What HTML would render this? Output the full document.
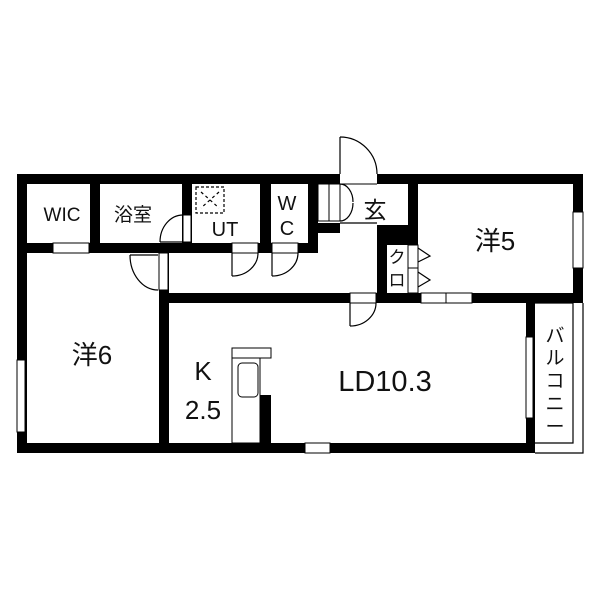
<!DOCTYPE html>
<html><head><meta charset="utf-8"><style>
html,body{margin:0;padding:0;background:#fff;}
svg{display:block;}
text{font-family:"Liberation Sans","Noto Sans CJK JP",sans-serif;fill:#111;}
</style></head><body>
<svg width="600" height="600" viewBox="0 0 600 600" xmlns="http://www.w3.org/2000/svg">
<g fill="#000">
<rect x="17" y="174" width="566" height="10"/>
<rect x="17" y="174" width="10" height="279"/>
<rect x="17" y="443" width="518" height="10"/>
<rect x="573" y="174" width="10" height="129"/>
<rect x="168" y="293" width="415" height="10"/>
<rect x="526" y="293" width="9" height="160"/>
<rect x="17" y="243" width="301" height="10"/>
<rect x="90" y="174" width="10" height="79"/>
<rect x="182" y="174" width="10" height="79"/>
<rect x="260" y="174" width="11" height="79"/>
<rect x="308" y="174" width="10" height="79"/>
<rect x="308" y="223" width="32" height="10"/>
<rect x="159" y="253" width="10" height="200"/>
<rect x="408" y="174" width="10" height="129"/>
<rect x="377" y="225" width="41" height="20"/>
<rect x="377" y="225" width="10" height="78"/>
<rect x="260" y="395" width="11" height="48"/>
</g>
<g fill="#fff" stroke="#000" stroke-width="1">
<rect x="340" y="174" width="37" height="10" stroke="none"/>
<line x1="340" y1="184" x2="377" y2="184"/>
<rect x="53" y="243" width="36" height="10"/>
<rect x="421" y="293" width="25" height="10"/>
<rect x="446" y="293" width="26" height="10"/>
<rect x="573" y="212" width="10" height="56"/>
<rect x="17" y="360" width="8" height="72"/>
<rect x="305" y="443" width="25" height="10"/>
<rect x="526" y="337" width="7" height="81"/>
<rect x="183" y="215" width="8" height="27"/>
<rect x="232" y="243" width="26" height="10"/>
<rect x="272" y="243" width="26" height="10"/>
<rect x="159" y="253" width="9" height="37"/>
<rect x="350" y="293" width="26" height="10"/>
<rect x="318" y="184" width="11" height="37"/>
<rect x="329" y="184" width="11" height="37"/>
<rect x="408" y="245" width="10" height="23"/>
<rect x="408" y="268" width="10" height="25"/>
<rect x="232" y="348" width="39" height="10"/>
<rect x="232" y="358" width="28" height="85"/>
<rect x="238" y="363" width="20" height="34" rx="4"/>
</g>
<g fill="none" stroke="#000" stroke-width="1.2">
<line x1="340" y1="137" x2="340" y2="174"/>
<path d="M340 137 A37 37 0 0 1 377 174"/>
<line x1="160" y1="242" x2="183" y2="242"/>
<path d="M160 242 A23 27 0 0 1 183 215"/>
<line x1="232" y1="253" x2="232" y2="276"/>
<path d="M232 276 A26 23 0 0 0 258 253"/>
<line x1="272" y1="253" x2="272" y2="276"/>
<path d="M272 276 A26 23 0 0 0 298 253"/>
<line x1="130" y1="255" x2="158" y2="255"/>
<path d="M130 255 A28 35 0 0 0 158 290"/>
<line x1="350" y1="303" x2="350" y2="326"/>
<path d="M350 326 A26 23 0 0 0 376 303"/>
<path d="M340 184 A13 18 0 0 1 353 202"/>
<path d="M340 221 A13 18 0 0 0 353 203"/>
<line x1="340" y1="223" x2="377" y2="223"/>
<path d="M418 248 L430 256 L418 262"/>
<path d="M418 272 L430 280 L418 287"/>
<polyline points="535,303 573,303 573,443 535,443"/>
<polyline points="583,303 583,453 535,453"/>
<rect x="196" y="187" width="28" height="26" stroke-dasharray="3,2"/>
<line x1="201" y1="192" x2="219" y2="208" stroke-dasharray="3,3"/>
<line x1="219" y1="192" x2="201" y2="208" stroke-dasharray="3,3"/>
</g>
<text x="62" y="221" font-size="19" text-anchor="middle">WIC</text>
<text x="133" y="221" font-size="19" text-anchor="middle">浴室</text>
<text x="225" y="236" font-size="20" text-anchor="middle">UT</text>
<text x="287" y="210" font-size="20" text-anchor="middle">W</text>
<text x="287" y="235" font-size="20" text-anchor="middle">C</text>
<text x="375" y="218" font-size="23" text-anchor="middle">玄</text>
<text x="495" y="250" font-size="26" text-anchor="middle">洋5</text>
<text x="397" y="263" font-size="17" text-anchor="middle">ク</text>
<text x="397" y="286" font-size="17" text-anchor="middle">ロ</text>
<text x="92" y="364" font-size="26" text-anchor="middle">洋6</text>
<text x="203" y="380" font-size="26" text-anchor="middle">K</text>
<text x="203" y="419" font-size="26" text-anchor="middle">2.5</text>
<text x="385" y="391" font-size="29" text-anchor="middle">LD10.3</text>
<g font-size="19" text-anchor="middle">
<text x="555" y="342">バ</text>
<text x="555" y="364">ル</text>
<text x="555" y="387">コ</text>
<text x="555" y="410">ニ</text>
<text x="555" y="433">ー</text>
</g>
</svg>
</body></html>
